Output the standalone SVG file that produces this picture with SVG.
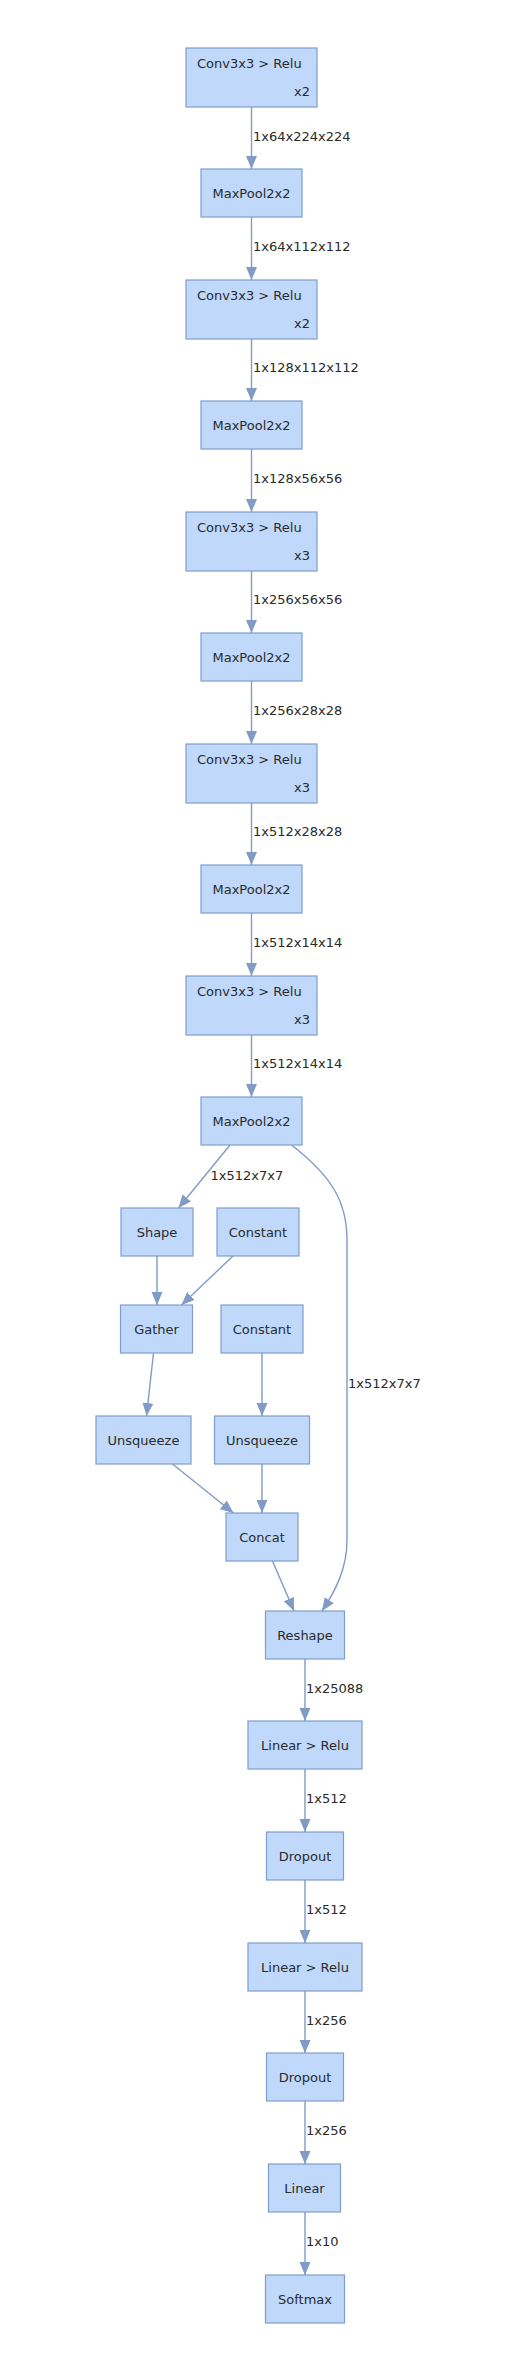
<svg xmlns="http://www.w3.org/2000/svg" width="518" height="2371" viewBox="0 0 518 2371">
<style>
.n rect{fill:#c0d9fb;stroke:#7f9dcc;stroke-width:1.2}
text{font-family:"DejaVu Sans",Verdana,sans-serif;font-size:13px;fill:#2a2a2a}
.c{text-anchor:middle}
.r{text-anchor:end}
.e path{fill:none;stroke:#7f9bc6;stroke-width:1.4;marker-end:url(#a)}
</style>
<defs>
<marker id="a" markerUnits="userSpaceOnUse" markerWidth="14" markerHeight="12" refX="13" refY="5.5" orient="auto">
<path d="M0,0 L13,5.5 L0,11 z" fill="#7f9bc6"/>
</marker>
</defs>
<rect width="518" height="2371" fill="#ffffff"/>
<g class="e" id="edges">
<path d="M251.5,107 V169"/>
<path d="M251.5,217 V280"/>
<path d="M251.5,339 V401"/>
<path d="M251.5,449 V512"/>
<path d="M251.5,571 V633"/>
<path d="M251.5,681 V744"/>
<path d="M251.5,803 V865"/>
<path d="M251.5,913 V976"/>
<path d="M251.5,1035 V1097"/>
<path d="M230,1145 L178.5,1208"/>
<path d="M291.5,1145 C330,1175 347,1200 347,1240 L347,1540 C347,1568 336,1590 322,1611"/>
<path d="M157,1256 V1305"/>
<path d="M233,1256 L181.5,1305"/>
<path d="M153.5,1353 L146.5,1416"/>
<path d="M262,1353 V1416"/>
<path d="M172.5,1464 L233.5,1513"/>
<path d="M262,1464 V1513"/>
<path d="M272.5,1561 L294,1611"/>
<path d="M305,1659 V1721"/>
<path d="M305,1769 V1832"/>
<path d="M305,1880 V1943"/>
<path d="M305,1991 V2053"/>
<path d="M305,2101 V2164"/>
<path d="M305,2212 V2275"/>
</g>
<g id="edge-labels">
<text x="253" y="140.5">1x64x224x224</text>
<text x="253" y="251">1x64x112x112</text>
<text x="253" y="372">1x128x112x112</text>
<text x="253" y="483">1x128x56x56</text>
<text x="253" y="604">1x256x56x56</text>
<text x="253" y="715">1x256x28x28</text>
<text x="253" y="836">1x512x28x28</text>
<text x="253" y="947">1x512x14x14</text>
<text x="253" y="1068">1x512x14x14</text>
<text x="210.5" y="1180">1x512x7x7</text>
<text x="348" y="1388">1x512x7x7</text>
<text x="306" y="1692.5">1x25088</text>
<text x="306" y="1803">1x512</text>
<text x="306" y="1914">1x512</text>
<text x="306" y="2024.5">1x256</text>
<text x="306" y="2135">1x256</text>
<text x="306" y="2246">1x10</text>
</g>
<g class="n" id="conv1"><rect x="186" y="48" width="131" height="59"/><text x="197" y="68">Conv3x3 &gt; Relu</text><text class="r" x="310" y="96">x2</text></g>
<g class="n" id="pool1"><rect x="201" y="169" width="101" height="48"/><text class="c" x="251.5" y="197.5">MaxPool2x2</text></g>
<g class="n" id="conv2"><rect x="186" y="280" width="131" height="59"/><text x="197" y="300">Conv3x3 &gt; Relu</text><text class="r" x="310" y="328">x2</text></g>
<g class="n" id="pool2"><rect x="201" y="401" width="101" height="48"/><text class="c" x="251.5" y="429.5">MaxPool2x2</text></g>
<g class="n" id="conv3"><rect x="186" y="512" width="131" height="59"/><text x="197" y="532">Conv3x3 &gt; Relu</text><text class="r" x="310" y="560">x3</text></g>
<g class="n" id="pool3"><rect x="201" y="633" width="101" height="48"/><text class="c" x="251.5" y="661.5">MaxPool2x2</text></g>
<g class="n" id="conv4"><rect x="186" y="744" width="131" height="59"/><text x="197" y="764">Conv3x3 &gt; Relu</text><text class="r" x="310" y="792">x3</text></g>
<g class="n" id="pool4"><rect x="201" y="865" width="101" height="48"/><text class="c" x="251.5" y="893.5">MaxPool2x2</text></g>
<g class="n" id="conv5"><rect x="186" y="976" width="131" height="59"/><text x="197" y="996">Conv3x3 &gt; Relu</text><text class="r" x="310" y="1024">x3</text></g>
<g class="n" id="pool5"><rect x="201" y="1097" width="101" height="48"/><text class="c" x="251.5" y="1125.5">MaxPool2x2</text></g>
<g class="n" id="shape"><rect x="121" y="1208" width="72" height="48"/><text class="c" x="157" y="1236.5">Shape</text></g>
<g class="n" id="constant1"><rect x="217" y="1208" width="82" height="48"/><text class="c" x="258" y="1236.5">Constant</text></g>
<g class="n" id="gather"><rect x="120.5" y="1305" width="72" height="48"/><text class="c" x="156.5" y="1333.5">Gather</text></g>
<g class="n" id="constant2"><rect x="221" y="1305" width="82" height="48"/><text class="c" x="262" y="1333.5">Constant</text></g>
<g class="n" id="unsqueeze1"><rect x="96" y="1416" width="95" height="48"/><text class="c" x="143.5" y="1444.5">Unsqueeze</text></g>
<g class="n" id="unsqueeze2"><rect x="214.5" y="1416" width="95" height="48"/><text class="c" x="262" y="1444.5">Unsqueeze</text></g>
<g class="n" id="concat"><rect x="226" y="1513" width="72" height="48"/><text class="c" x="262" y="1541.5">Concat</text></g>
<g class="n" id="reshape"><rect x="265.5" y="1611" width="79" height="48"/><text class="c" x="305" y="1639.5">Reshape</text></g>
<g class="n" id="linear1"><rect x="248" y="1721" width="114" height="48"/><text class="c" x="305" y="1749.5">Linear &gt; Relu</text></g>
<g class="n" id="dropout1"><rect x="266.5" y="1832" width="77" height="48"/><text class="c" x="305" y="1860.5">Dropout</text></g>
<g class="n" id="linear2"><rect x="248" y="1943" width="114" height="48"/><text class="c" x="305" y="1971.5">Linear &gt; Relu</text></g>
<g class="n" id="dropout2"><rect x="266.5" y="2053" width="77" height="48"/><text class="c" x="305" y="2081.5">Dropout</text></g>
<g class="n" id="linear3"><rect x="268.5" y="2164" width="72" height="48"/><text class="c" x="304.5" y="2192.5">Linear</text></g>
<g class="n" id="softmax"><rect x="265.5" y="2275" width="79" height="48"/><text class="c" x="305" y="2303.5">Softmax</text></g>
</svg>
